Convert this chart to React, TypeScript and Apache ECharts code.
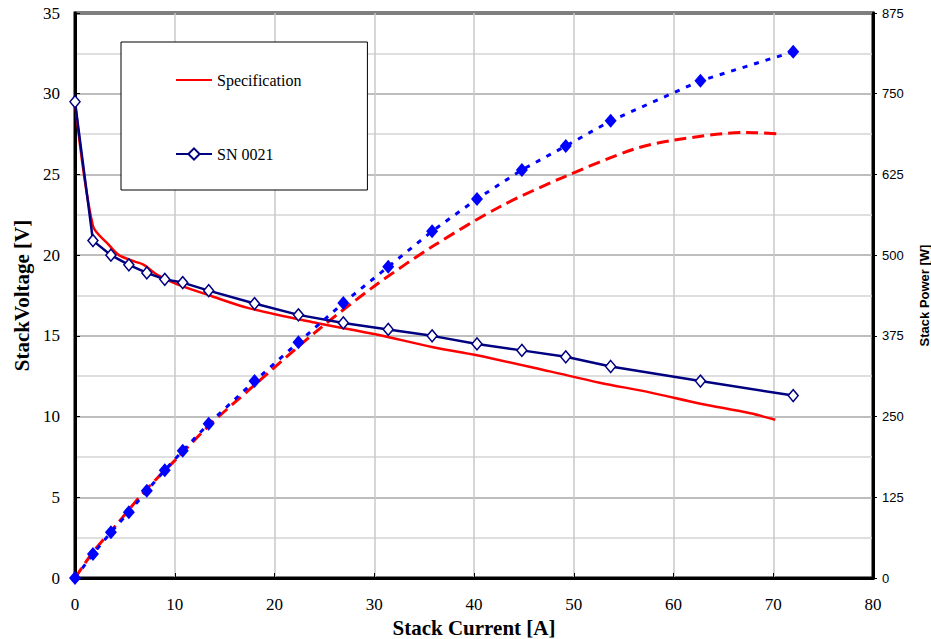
import React, { useEffect, useRef } from "react";
import * as echarts from "echarts";

const snCurrent = [0, 1.8, 3.6, 5.4, 7.2, 9.0, 10.8, 13.4, 18.0, 22.4, 26.9, 31.4, 35.8, 40.3, 44.8, 49.2, 53.7, 62.7, 72.0];
const snVoltage = [29.5, 20.9, 20.0, 19.4, 18.9, 18.5, 18.3, 17.8, 17.0, 16.3, 15.8, 15.4, 15.0, 14.5, 14.1, 13.7, 13.1, 12.2, 11.3];
const snPower = [0, 37, 71, 102, 135, 167, 197, 239, 305, 365, 426, 482, 537, 587, 632, 669, 708, 770, 815];

const specCurrent = [0, 1.8, 3.3, 4.4, 6.0, 6.9, 8.2, 10.2, 13.5, 17.5, 24.2, 30.1, 35.9, 40.3, 47.6, 52.6, 57.6, 62.7, 67.7, 70.2];
const specVoltage = [29.5, 21.8, 20.7, 20.0, 19.6, 19.4, 18.8, 18.2, 17.5, 16.7, 15.8, 15.1, 14.3, 13.8, 12.8, 12.1, 11.5, 10.8, 10.2, 9.8];

const specPowerCurrent = [0, 1.8, 4.4, 6.9, 10.2, 13.5, 17.5, 24.2, 30.1, 35.9, 42.6, 49, 56, 60, 67.3, 70.5];
const specPower = [0, 40, 87, 133, 185, 237, 292, 382, 453, 514, 575, 621, 664, 678, 690, 688];

const zip = (xs: number[], ys: number[]) => xs.map((x, i) => [x, ys[i]]);

const SERIF = "'Liberation Serif', 'Times New Roman', serif";
const SANS = "'Liberation Sans', Arial, sans-serif";

export default function App() {
  const ref = useRef<HTMLDivElement>(null);
  useEffect(() => {
    const chart = echarts.init(ref.current!, undefined, { renderer: "svg" });
    chart.setOption({
      animation: false,
      backgroundColor: "#fff",
      grid: {
        left: 75, right: 58, top: 13, bottom: 61,
        show: true, borderColor: "#000", borderWidth: 3, backgroundColor: "transparent",
        outerBoundsMode: "none",
      },
      legend: {
        orient: "vertical",
        left: 121,
        top: 42,
        data: [
          { name: "Specification", itemStyle: { color: "transparent", borderWidth: 0, opacity: 0 } },
          { name: "SN 0021" },
        ],
        backgroundColor: "#fff",
        borderColor: "#000",
        borderWidth: 1,
        padding: [30, 66, 28, 54],
        itemGap: 58,
        itemWidth: 36,
        itemHeight: 14,
        textStyle: { fontFamily: SERIF, fontSize: 16, color: "#000" },
      },
      xAxis: {
        type: "value",
        min: 0,
        max: 80,
        interval: 10,
        name: "Stack Current [A]",
        nameLocation: "middle",
        nameGap: 30,
        nameTextStyle: { fontFamily: SERIF, fontSize: 21, fontWeight: "bold", color: "#000" },
        axisLine: { show: true, lineStyle: { color: "#000", width: 3 } },
        axisTick: { show: true, inside: true, length: 5, lineStyle: { color: "#000" } },
        axisLabel: { fontFamily: SERIF, fontSize: 17, color: "#000", margin: 18 },
        splitLine: { show: true, lineStyle: { color: "#c8c8c8", width: 1.5 } },
      },
      yAxis: [
        {
          type: "value",
          min: 0,
          max: 35,
          interval: 5,
          name: "StackVoltage [V]",
          nameLocation: "middle",
          nameGap: 40,
          nameRotate: 90,
          nameTextStyle: { fontFamily: SERIF, fontSize: 21, fontWeight: "bold", color: "#000" },
          axisLine: { show: true, lineStyle: { color: "#000", width: 3 } },
          axisTick: { show: true, inside: true, length: 5, lineStyle: { color: "#000" } },
          axisLabel: { fontFamily: SERIF, fontSize: 17, color: "#000", margin: 15 },
          splitLine: { show: true, lineStyle: { color: "#a8a8a8", width: 1.5 } },
          minorTick: { show: false, splitNumber: 2 },
          minorSplitLine: { show: true, lineStyle: { color: "#d4d4d4", width: 1.5 } },
        },
        {
          type: "value",
          min: 0,
          max: 875,
          interval: 125,
          position: "right",
          name: "Stack Power [W]",
          nameLocation: "middle",
          nameGap: 45,
          nameRotate: 90,
          nameTextStyle: { fontFamily: SANS, fontSize: 13, fontWeight: "bold", color: "#000" },
          axisLine: { show: true, lineStyle: { color: "#000", width: 3 } },
          axisTick: { show: true, inside: false, length: 4, lineStyle: { color: "#000" } },
          axisLabel: { fontFamily: SANS, fontSize: 13, color: "#000", margin: 9 },
          splitLine: { show: false },
        },
      ],
      series: [
        {
          name: "Specification",
          type: "line",
          yAxisIndex: 0,
          data: zip(specCurrent, specVoltage),
          showSymbol: false,
          symbol: "none",
          smooth: 0.3,
          lineStyle: { color: "#ff0000", width: 2.5 },
          itemStyle: { color: "#ff0000" },
          z: 3,
        },
        {
          name: "SN 0021",
          type: "line",
          yAxisIndex: 0,
          data: zip(snCurrent, snVoltage),
          symbol: "diamond",
          symbolSize: [10, 12],
          lineStyle: { color: "#000080", width: 2.5 },
          itemStyle: { color: "#fff", borderColor: "#000080", borderWidth: 1.5 },
          z: 4,
        },
        {
          name: "Specification Power",
          type: "line",
          yAxisIndex: 1,
          data: zip(specPowerCurrent, specPower),
          showSymbol: false,
          symbol: "none",
          smooth: 0.3,
          lineStyle: { color: "#ff0000", width: 3, type: [12, 6] },
          z: 3,
        },
        {
          name: "SN 0021 Power",
          type: "line",
          yAxisIndex: 1,
          data: zip(snCurrent, snPower),
          symbol: "diamond",
          symbolSize: [12, 14],
          lineStyle: { color: "#0000ff", width: 3, type: [5, 7] },
          itemStyle: { color: "#0000ff" },
          z: 4,
        },
      ],
    });
    return () => chart.dispose();
  }, []);
  return <div ref={ref} style={{ width: 931, height: 639, position: "absolute", left: 0, top: 0 }} />;
}
